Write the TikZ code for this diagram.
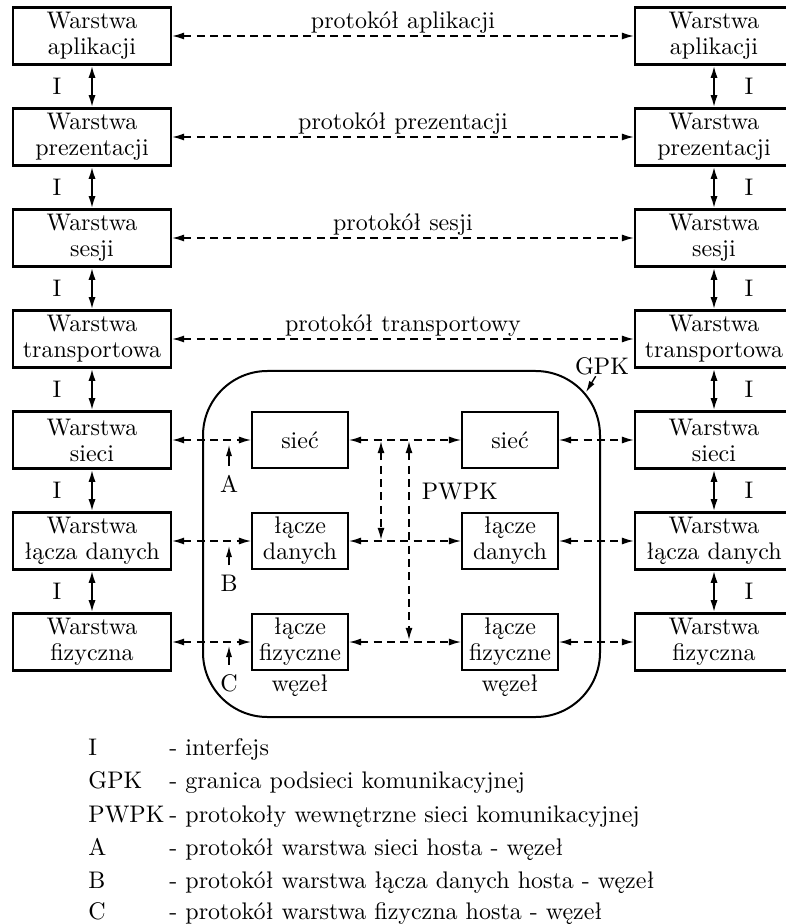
\documentclass[tikz,border=0pt]{standalone}
\usepackage{fontspec}
\usetikzlibrary{arrows.meta}

\tikzset{
  warstwa/.style={draw, line width=1pt, minimum width=71pt, minimum height=25.6pt, align=center, inner sep=1pt},
  wezel/.style={draw, line width=1pt, minimum width=43pt, minimum height=25pt, align=center, inner sep=1pt},
  proto/.style={{Latex[length=5.5pt,width=3.2pt]}-{Latex[length=5.5pt,width=3.2pt]}, line width=0.7pt, dash pattern=on 3.6pt off 2.4pt},
  iface/.style={{Latex[length=5.5pt,width=3.2pt]}-{Latex[length=5.5pt,width=3.2pt]}, line width=0.9pt},
  maly/.style={-{Latex[length=5pt,width=2.8pt]}, line width=0.6pt},
  etyk/.style={above, inner sep=1pt},
  opis/.style={anchor=base west, inner sep=0pt}
}

\begin{document}
\begin{tikzpicture}[x=0.45pt, y=-0.45pt, font=\fontsize{10.8}{11.7}\selectfont]
    \useasboundingbox (0,0) rectangle (785,924);

    % Warstwy hosta po lewej
    \node[warstwa] (aplL)  at (92,36)  {Warstwa\\aplikacji};
    \node[warstwa] (prezL) at (92,137) {Warstwa\\prezentacji};
    \node[warstwa] (sesL)  at (92,238) {Warstwa\\sesji};
    \node[warstwa] (trL)   at (92,339) {Warstwa\\transportowa};
    \node[warstwa] (siecL) at (92,440) {Warstwa\\sieci};
    \node[warstwa] (laczL) at (92,541) {Warstwa\\łącza danych};
    \node[warstwa] (fizL)  at (92,642) {Warstwa\\fizyczna};

    % Warstwy hosta po prawej
    \node[warstwa] (aplP)  at (714,36)  {Warstwa\\aplikacji};
    \node[warstwa] (prezP) at (714,137) {Warstwa\\prezentacji};
    \node[warstwa] (sesP)  at (714,238) {Warstwa\\sesji};
    \node[warstwa] (trP)   at (714,339) {Warstwa\\transportowa};
    \node[warstwa] (siecP) at (714,440) {Warstwa\\sieci};
    \node[warstwa] (laczP) at (714,541) {Warstwa\\łącza danych};
    \node[warstwa] (fizP)  at (714,642) {Warstwa\\fizyczna};

    % Interfejsy
    \draw[iface] (aplL)  -- node[left=10pt] {I} (prezL);
    \draw[iface] (prezL) -- node[left=10pt] {I} (sesL);
    \draw[iface] (sesL)  -- node[left=10pt] {I} (trL);
    \draw[iface] (trL)   -- node[left=10pt] {I} (siecL);
    \draw[iface] (siecL) -- node[left=10pt] {I} (laczL);
    \draw[iface] (laczL) -- node[left=10pt] {I} (fizL);
    \draw[iface] (aplP)  -- node[right=10pt] {I} (prezP);
    \draw[iface] (prezP) -- node[right=10pt] {I} (sesP);
    \draw[iface] (sesP)  -- node[right=10pt] {I} (trP);
    \draw[iface] (trP)   -- node[right=10pt] {I} (siecP);
    \draw[iface] (siecP) -- node[right=10pt] {I} (laczP);
    \draw[iface] (laczP) -- node[right=10pt] {I} (fizP);

    % Protokoly warstw wyzszych
    \draw[proto] (aplL)  -- node[etyk] {protokół aplikacji} (aplP);
    \draw[proto] (prezL) -- node[etyk] {protokół prezentacji} (prezP);
    \draw[proto] (sesL)  -- node[etyk] {protokół sesji} (sesP);
    \draw[proto] (trL)   -- node[etyk] {protokół transportowy} (trP);

    % Granica podsieci komunikacyjnej
    \draw[line width=0.9pt, rounded corners=29pt] (203,371) rectangle (600,717);

    % Wezly
    \node[wezel] (siecA) at (300,440) {sieć};
    \node[wezel] (laczA) at (300,541) {łącze\\danych};
    \node[wezel] (fizA)  at (300,642) {łącze\\fizyczne};
    \node[wezel] (siecB) at (510,440) {sieć};
    \node[wezel] (laczB) at (510,541) {łącze\\danych};
    \node[wezel] (fizB)  at (510,642) {łącze\\fizyczne};
    \node (wezA) at (300,686) {węzeł};
    \node (wezB) at (510,686) {węzeł};

    % Protokoly host - wezel - host
    \draw[proto] (siecL) -- (siecA);
    \draw[proto] (siecA) -- (siecB);
    \draw[proto] (siecB) -- (siecP);
    \draw[proto] (laczL) -- (laczA);
    \draw[proto] (laczA) -- (laczB);
    \draw[proto] (laczB) -- (laczP);
    \draw[proto] (fizL)  -- (fizA);
    \draw[proto] (fizA)  -- (fizB);
    \draw[proto] (fizB)  -- (fizP);

    % PWPK
    \coordinate (pw1) at (381,441);
    \coordinate (pw2) at (381,540);
    \coordinate (pw3) at (409,441);
    \coordinate (pw4) at (409,640);
    \draw[proto] (pw1) -- (pw2);
    \draw[proto] (pw3) -- (pw4);
    \node[anchor=west] (pwpk) at (414,492) {PWPK};

    % Oznaczenia A, B, C
    \node[inner sep=1pt] (A) at (229,484) {A};
    \node[inner sep=1pt] (B) at (229,583) {B};
    \node[inner sep=1pt] (C) at (229,683) {C};
    \coordinate (a) at (229,445);
    \coordinate (b) at (229,546);
    \coordinate (c) at (229,646);
    \draw[maly, shorten <=3pt] (A) -- (a);
    \draw[maly, shorten <=3pt] (B) -- (b);
    \draw[maly, shorten <=3pt] (C) -- (c);

    % GPK
    \node[inner sep=0.5pt] (gpk) at (602,366) {GPK};
    \coordinate (g) at (586,392);
    \draw[maly] (gpk) -- (g);

    % Legenda
    \node[opis] (l1) at (88,755) {I};
    \node[opis] (l2) at (88,788) {GPK};
    \node[opis] (l3) at (88,822) {PWPK};
    \node[opis] (l4) at (88,855) {A};
    \node[opis] (l5) at (88,888) {B};
    \node[opis] (l6) at (88,919) {C};
    \node[opis] (o1) at (169,755) {- interfejs};
    \node[opis] (o2) at (169,788) {- granica podsieci komunikacyjnej};
    \node[opis] (o3) at (169,822) {- protokoły wewnętrzne sieci komunikacyjnej};
    \node[opis] (o4) at (169,855) {- protokół warstwa sieci hosta - węzeł};
    \node[opis] (o5) at (169,888) {- protokół warstwa łącza danych hosta - węzeł};
    \node[opis] (o6) at (169,919) {- protokół warstwa fizyczna hosta - węzeł};
\end{tikzpicture}
\end{document}
